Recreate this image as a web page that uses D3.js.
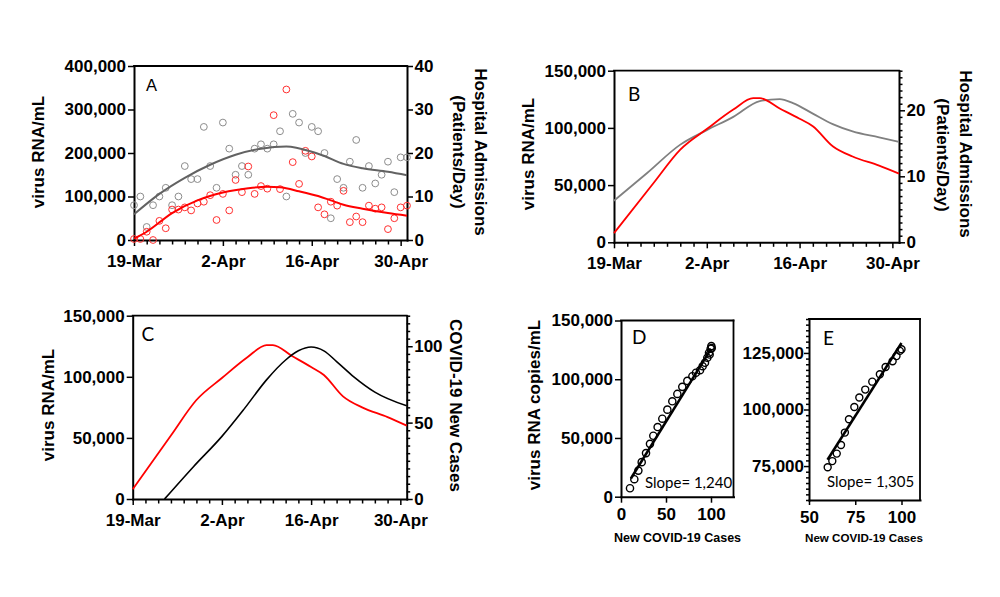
<!DOCTYPE html>
<html><head><meta charset="utf-8">
<script src="https://cdn.jsdelivr.net/npm/d3@7"></script>
<style>body{margin:0;background:#fff} svg{display:block}</style>
</head><body>
<svg id="chart" width="1000" height="597"></svg>
<script>
// ---------------- DATA ----------------
const dayIndex = d3.range(0, 44);                 // 19-Mar ... 1-May (daily)
const dateTickDays = [0, 14, 28, 42];
const dateTickLabels = ["19-Mar", "2-Apr", "16-Apr", "30-Apr"];

// Panel A: daily observations
const aAdmissions = [8,10,3,8,10,12,8,10,17,14,14,26,17,12,27,21,15,17,15,21,22,21,22,25,10,29,27,20,26,25,20,5,14,12,18,23,12,17,13,15,18,11,19,19];
const aVirusK = [2.3,2.3,19,0,44,27,70,70,75,68,84,88,103,46,106,68,138,110,169,106,124,118,287,117,346,179,129,205,192,75,59,88,79,113,41,54,41,79,72,75,25,50,75,79];
// Panel A: smoothed curves
const aVirusSmoothDays = [0,2,6,10,14,18,21,23,26,29,31,33,36,40,43];
const aVirusSmoothK    = [3,19,62,91,109,119,122.5,121,112,101,91,81,72,62,56];
const aAdmSmoothDays   = [0,4,8,12,16,20,24,28,30,33,36,40,43];
const aAdmSmooth       = [5.9,10.6,14.3,17.3,19.6,21,21.5,20.3,19.3,17.5,16.5,15.7,14.9];

// Panels B & C: smoothed virus RNA
const virusSmoothDays = [0,6,10,14,18,21,22,25,28,30,33,36,40,43];
const virusSmoothK    = [8,52,81,99,116,126,126,117,108,101.5,84,75,67,60];
// Panel B: smoothed admissions
const bAdmDays = [0,5,10,14,18,22,25,27,30,33,36,40,43];
const bAdm     = [6.3,10.5,14.8,17,19,21.4,21.7,21.1,19.5,17.9,16.8,15.9,15.2];
// Panel C: new cases
const cCasesDays = [5,9.5,14,17.5,21,24,26,28,30,32,34.7,38,43];
const cCases     = [0,21,41,59,78,91,97,99.5,97,90,80,70,61];

// Panel D: virus vs new cases
const dCases  = [10,14.8,19.3,23,27.8,32.2,35.9,40.7,45.9,51.5,57,62.6,68.1,73.7,79.3,83.3,87.8,90.7,93.3,95.9,97.8,98.5,99.6,100.4,100.8];
const dVirusK = [7.2,14.9,22.2,29.4,37.1,45,51.9,59.3,66.4,74.1,81.2,87.5,93.5,98.6,102.6,105.5,107.7,111.1,114,118.3,122.6,121,126,128.2,126.5];
const dFitCases = [11, 100];
const dFitVirusK = [15.5, 125.8];
const dSlopeLabel = "Slope= 1,240";

// Panel E
const eCases  = [60.1,62.6,65,67.3,69.4,71.6,74.5,77.2,80.4,84.2,88.3,91.4,95.2,97.3,99.1,100];
const eVirusK = [74.5,77.2,80.5,84.3,89.8,95.7,101.1,105.3,108.8,112.3,115.6,118.8,121.3,123.6,125.9,126.6];
const eFitCases = [60, 100];
const eFitVirusK = [77.8, 129.4];
const eSlopeLabel = "Slope= 1,305";

// ---------------- DRAWING ----------------
const svg = d3.select("#chart");
const FONT = '"Liberation Sans", Arial, Helvetica, sans-serif';
const FONT2 = 'Lato, "Open Sans", sans-serif';
const fmt = d3.format(",");

function styleAxis(g, fs) {
  g.attr("font-family", null).attr("font-size", null);
  g.select(".domain").attr("stroke", "#000").attr("stroke-width", 2).attr("stroke-linecap", "square");
  g.selectAll(".tick line").attr("stroke", "#000").attr("stroke-width", 1.5);
  g.selectAll(".tick text").attr("fill", "#000").attr("font-family", FONT)
    .attr("font-size", fs || 17).attr("font-weight", "bold");
}
function shortenMinor(g, isMajor, len, dir) {
  g.selectAll(".tick").each(function(d) {
    if (!isMajor(d)) d3.select(this).select("line").attr(dir, len);
  });
}
function rotText(x, y, angle, txt, fs, weight, fam, anchor) {
  svg.append("text").attr("transform", `translate(${x},${y}) rotate(${angle})`)
    .attr("text-anchor", anchor || "middle").attr("font-family", fam || FONT)
    .attr("font-size", fs).attr("font-weight", weight || "bold").attr("fill", "#000").text(txt);
}
function hline(x0, x1, y) {
  svg.append("line").attr("x1", x0).attr("x2", x1).attr("y1", y).attr("y2", y)
    .attr("stroke", "#000").attr("stroke-width", 1.8).attr("stroke-linecap", "square");
}
function vline(x, y0, y1) {
  svg.append("line").attr("x1", x).attr("x2", x).attr("y1", y0).attr("y2", y1)
    .attr("stroke", "#000").attr("stroke-width", 1.8).attr("stroke-linecap", "square");
}

function timePanel(o) {
  const x = d3.scaleLinear().domain([0, 43]).range([o.x0, o.x1]);
  const yL = d3.scaleLinear().domain([0, o.yLmax]).range([o.y1, o.y0]);
  const yR = d3.scaleLinear().domain([0, o.yRmax]).range([o.y1, o.y0]);
  hline(o.x0, o.x1, o.y0);

  const xa = svg.append("g").attr("transform", `translate(0,${o.y1})`)
    .call(d3.axisBottom(x).tickValues(d3.range(0, 43, 2)).tickSize(6).tickPadding(8.5).tickSizeOuter(0)
      .tickFormat(d => { const i = dateTickDays.indexOf(d); return i >= 0 ? dateTickLabels[i] : ""; }));
  styleAxis(xa);
  shortenMinor(xa, d => dateTickDays.includes(d), 4.5, "y2");

  const la = svg.append("g").attr("transform", `translate(${o.x0},0)`)
    .call(d3.axisLeft(yL).tickValues(o.yLticks).tickSize(6).tickPadding(2).tickSizeOuter(0).tickFormat(fmt));
  styleAxis(la);

  const ra = svg.append("g").attr("transform", `translate(${o.x1},0)`)
    .call(d3.axisRight(yR).tickValues(o.yRticks).tickSize(6).tickPadding(1.5).tickSizeOuter(0)
      .tickFormat(d => o.yRmajor.includes(d) ? d : ""));
  styleAxis(ra);
  shortenMinor(ra, d => o.yRmajor.includes(d), 3.5, "x2");
  return { x, yL, yR };
}

function drawLine(xs, ys, xScale, yScale, color, w) {
  const pts = xs.map((d, i) => [d, ys[i]]);
  svg.append("path").datum(pts).attr("fill", "none").attr("stroke", color).attr("stroke-width", w)
    .attr("stroke-linejoin", "round")
    .attr("d", d3.line().x(d => xScale(d[0])).y(d => yScale(d[1])).curve(d3.curveMonotoneX));
}

// ----- Panel A -----
const A = timePanel({ x0: 134, x1: 407, y0: 66, y1: 240, yLmax: 400000, yLticks: [0,100000,200000,300000,400000],
  yRmax: 40, yRticks: [0,10,20,30,40], yRmajor: [0,10,20,30,40] });
svg.append("g").selectAll("circle").data(dayIndex).join("circle")
  .attr("cx", d => A.x(d)).attr("cy", (d, i) => A.yR(aAdmissions[i])).attr("r", 3.4)
  .attr("fill", "none").attr("stroke", "#8c8c8c").attr("stroke-width", 1);
svg.append("g").selectAll("circle").data(dayIndex).join("circle")
  .attr("cx", d => A.x(d)).attr("cy", (d, i) => A.yL(aVirusK[i] * 1000)).attr("r", 3.4)
  .attr("fill", "none").attr("stroke", "#ff3030").attr("stroke-width", 1);
drawLine(aAdmSmoothDays, aAdmSmooth, A.x, A.yR, "#626262", 2);
drawLine(aVirusSmoothDays, aVirusSmoothK.map(v => v * 1000), A.x, A.yL, "#ff0000", 2);
svg.append("text").attr("x", 146).attr("y", 91).attr("font-family", FONT).attr("font-size", 16.5).text("A");
rotText(44, 152, -90, "virus RNA/mL", 17);
rotText(474.5, 152, 90, "Hospital Admissions", 17);
rotText(453, 152, 90, "(Patients/Day)", 17);

// ----- Panel B -----
const B = timePanel({ x0: 614, x1: 899, y0: 70.7, y1: 242.3, yLmax: 150000, yLticks: [0,50000,100000,150000],
  yRmax: 26, yRticks: d3.range(0, 27), yRmajor: [0,10,20] });
drawLine(bAdmDays, bAdm, B.x, B.yR, "#808080", 1.8);
drawLine(virusSmoothDays, virusSmoothK.map(v => v * 1000), B.x, B.yL, "#ff0000", 1.8);
svg.append("text").attr("x", 628).attr("y", 101).attr("font-family", FONT2).attr("font-size", 19).text("B");
rotText(534, 154, -90, "virus RNA/mL", 17);
rotText(959.5, 154, 90, "Hospital Admissions", 17);
rotText(937, 155, 90, "(Patients/Day)", 17);

// ----- Panel C -----
const C = timePanel({ x0: 132.7, x1: 406.7, y0: 315.7, y1: 499, yLmax: 150000, yLticks: [0,50000,100000,150000],
  yRmax: 120, yRticks: d3.range(0, 121, 5), yRmajor: [0,50,100] });
drawLine(virusSmoothDays, virusSmoothK.map(v => v * 1000), C.x, C.yL, "#ff0000", 1.8);
drawLine(cCasesDays, cCases, C.x, C.yR, "#000", 1.6);
svg.append("text").attr("x", 141.5).attr("y", 341).attr("font-family", FONT2).attr("font-size", 19).text("C");
rotText(54, 405, -90, "virus RNA/mL", 17);
rotText(449.5, 405.5, 90, "COVID-19 New Cases", 17);

// ----- Panel D -----
(function() {
  const x = d3.scaleLinear().domain([0, 125]).range([621, 733.5]);
  const y = d3.scaleLinear().domain([0, 150000]).range([496.7, 320.5]);
  hline(621, 733.5, 320.5); vline(733.5, 320.5, 496.7);
  const xa = svg.append("g").attr("transform", "translate(0,496.7)")
    .call(d3.axisBottom(x).tickValues([0, 50, 100]).tickSize(6).tickPadding(5).tickSizeOuter(0));
  styleAxis(xa);
  const ya = svg.append("g").attr("transform", "translate(621,0)")
    .call(d3.axisLeft(y).tickValues([0, 50000, 100000, 150000]).tickSize(6).tickPadding(2).tickSizeOuter(0).tickFormat(fmt));
  styleAxis(ya);
  svg.append("path").datum(dFitCases.map((c, i) => [c, dFitVirusK[i] * 1000]))
    .attr("stroke", "#000").attr("stroke-width", 2.5).attr("fill", "none")
    .attr("d", d3.line().x(d => x(d[0])).y(d => y(d[1])));
  svg.append("g").selectAll("circle").data(dCases).join("circle")
    .attr("cx", d => x(d)).attr("cy", (d, i) => y(dVirusK[i] * 1000)).attr("r", 3.6)
    .attr("fill", "none").attr("stroke", "#000").attr("stroke-width", 1.4);
  svg.append("text").attr("x", 632).attr("y", 344).attr("font-family", FONT2).attr("font-size", 19).text("D");
  svg.append("text").attr("x", 645).attr("y", 488).attr("font-family", FONT2).attr("font-size", 15).text(dSlopeLabel);
  rotText(540, 405, -90, "virus RNA copies/mL", 17);
  svg.append("text").attr("x", 677.5).attr("y", 542).attr("text-anchor", "middle").attr("font-family", FONT)
    .attr("font-size", 12.5).attr("font-weight", "bold").text("New COVID-19 Cases");
})();

// ----- Panel E -----
(function() {
  const x = d3.scaleLinear().domain([50, 110]).range([809, 920]);
  const y = d3.scaleLinear().domain([60000, 140000]).range([500, 319]);
  hline(809, 920, 319); vline(920, 319, 500);
  const xa = svg.append("g").attr("transform", "translate(0,500)")
    .call(d3.axisBottom(x).tickValues([50, 75, 100]).tickSize(5).tickPadding(6).tickSizeOuter(0));
  styleAxis(xa);
  const ya = svg.append("g").attr("transform", "translate(809,0)")
    .call(d3.axisLeft(y).tickValues(d3.range(60000, 140001, 2500)).tickSize(5).tickPadding(0).tickSizeOuter(0)
      .tickFormat(d => [75000, 100000, 125000].includes(d) ? fmt(d) : ""));
  styleAxis(ya);
  shortenMinor(ya, d => [75000, 100000, 125000].includes(d), -3, "x2");
  svg.append("path").datum(eFitCases.map((c, i) => [c, eFitVirusK[i] * 1000]))
    .attr("stroke", "#000").attr("stroke-width", 2.5).attr("fill", "none")
    .attr("d", d3.line().x(d => x(d[0])).y(d => y(d[1])));
  svg.append("g").selectAll("circle").data(eCases).join("circle")
    .attr("cx", d => x(d)).attr("cy", (d, i) => y(eVirusK[i] * 1000)).attr("r", 3.5)
    .attr("fill", "none").attr("stroke", "#000").attr("stroke-width", 1.4);
  svg.append("text").attr("x", 823).attr("y", 345).attr("font-family", FONT2).attr("font-size", 19).text("E");
  svg.append("text").attr("x", 827).attr("y", 487).attr("font-family", FONT2).attr("font-size", 15).text(eSlopeLabel);
  svg.append("text").attr("x", 864).attr("y", 541.5).attr("text-anchor", "middle").attr("font-family", FONT)
    .attr("font-size", 11.6).attr("font-weight", "bold").text("New COVID-19 Cases");
})();
</script>
</body></html>
